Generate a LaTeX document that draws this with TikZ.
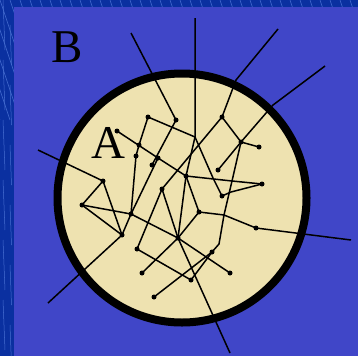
\documentclass[tikz,border=0pt]{standalone}
\usepackage{fontspec}
\setmainfont{Liberation Serif}
\definecolor{bgblue}{RGB}{64,70,200}
\definecolor{stripeblue}{RGB}{10,48,160}
\definecolor{stripeline}{RGB}{70,110,210}
\definecolor{cream}{RGB}{238,226,176}
\begin{document}
\begin{tikzpicture}[x=1pt,y=-1pt,
  net/.style={line width=1.5pt, black, line join=round},
  dotmark/.style={circle, fill=black, inner sep=0pt, minimum size=5pt},
  letter/.style={font=\fontsize{47}{47}\selectfont, inner sep=0pt}]
\useasboundingbox (0,0) rectangle (358,356);
\fill[bgblue] (0,0) rectangle (358,356);
\fill[stripeblue] (0,0) rectangle (14,356);
\fill[stripeblue] (0,0) rectangle (358,7);
\begin{scope}
  \clip (0,0) rectangle (14,356) (0,0) rectangle (358,7);
  \foreach \i in {-120,-110,...,360} {
    \draw[stripeline, line width=0.5pt] (\i,0) -- ++(40,120);
  }
  \foreach \i in {0,60,...,360} {
    \draw[stripeline, line width=0.5pt] (3,\i) -- ++(2,50);
    \draw[stripeline, line width=0.5pt] (10,\i+25) -- ++(1.5,40);
  }
\end{scope}
\node[letter] (B) at (67,47) {B};
\node[draw, circle, line width=8pt, fill=cream, minimum size=249pt, inner sep=0pt, outer sep=0pt] (C) at (182,198) {};
\node[letter] (A) at (108,143) {A};
% outer end points
\coordinate (o1) at (131,33);
\coordinate (o2) at (195,18);
\coordinate (o3) at (278,29);
\coordinate (o4) at (325,66);
\coordinate (o5) at (38,150);
\coordinate (o6) at (351,240);
\coordinate (o7) at (230,353);
\coordinate (o8) at (48,303);
% junctions
\coordinate (k1) at (195,137);
\coordinate (k3) at (236,80);
\coordinate (k4) at (273,105);
\coordinate (k5) at (232,181);
\coordinate (k6) at (213,178);
\coordinate (k7) at (231,192);
\coordinate (k8) at (224,215);
\coordinate (k9) at (219,244);
% dots
\coordinate (d1) at (176,120);
\coordinate (d2) at (148,117);
\coordinate (d3) at (117,131);
\coordinate (d4) at (136,156);
\coordinate (d5) at (152,165);
\coordinate (d6) at (222,117);
\coordinate (d7) at (241,142);
\coordinate (d8) at (259,147);
\coordinate (d9) at (218,170);
\coordinate (d10) at (103,181);
\coordinate (d11) at (82,205);
\coordinate (d12) at (131,214);
\coordinate (d13) at (122,235);
\coordinate (d14) at (162,189);
\coordinate (d15) at (186,176);
\coordinate (d16) at (222,196);
\coordinate (d17) at (262,184);
\coordinate (d18) at (199,212);
\coordinate (d19) at (256,228);
\coordinate (d20) at (137,249);
\coordinate (d21) at (142,273);
\coordinate (d22) at (154,297);
\coordinate (d23) at (212,252);
\coordinate (d24) at (191,280);
\coordinate (d25) at (230,273);
\coordinate (d26) at (158,158);
\coordinate (d27) at (139,145);
\coordinate (j) at (178,238);
\draw[net] (o1) -- (d1) -- (d5);
\draw[net] (o2) -- (k1) -- (d15) -- (j) -- (o7);
\draw[net] (o3) -- (k3) -- (d6);
\draw[net] (o4) -- (k4) -- (d7) -- (d9);
\draw[net] (d6) -- (d7) -- (d8);
\draw[net] (d6) -- (d14) -- (d20);
\draw[net] (d2) -- (k1) -- (k6) -- (d16) -- (k7) -- (d17);
\draw[net] (d2) -- (d27) -- (d4) -- (d12);
\draw[net] (d3) -- (d26) -- (d15) -- (k5) -- (d17);
\draw[net] (d7) -- (k5) -- (k8) -- (k9) -- (d23) -- (d24);
\draw[net] (d18) -- (k8) -- (d19) -- (o6);
\draw[net] (d15) -- (d18) -- (j);
\draw[net] (o5) -- (d10) -- (d11) -- (d12);
\draw[net] (d10) -- (d13) -- (o8);
\draw[net] (d11) -- (d13) -- (d12);
\draw[net] (d12) -- (d26);
\draw[net] (d12) -- (j) -- (d25);
\draw[net] (d14) -- (j);
\draw[net] (d21) -- (j);
\draw[net] (d20) -- (d24);
\draw[net] (d22) -- (d23);
\foreach \n in {d1,d2,d3,d4,d5,d6,d7,d8,d9,d10,d11,d12,d13,d14,d15,d16,d17,d18,d19,d20,d21,d22,d23,d24,d25,d26,d27,j} {
  \node[dotmark] (m\n) at (\n) {};
}
\end{tikzpicture}
\end{document}
